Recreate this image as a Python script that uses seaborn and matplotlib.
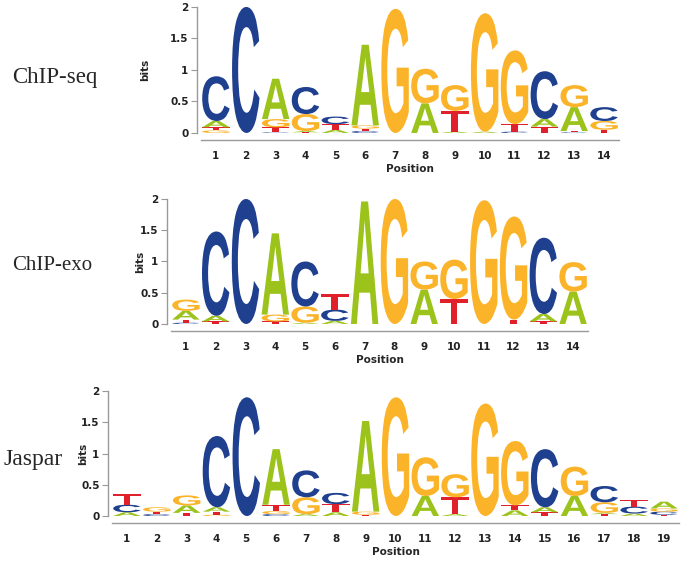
import matplotlib
matplotlib.use("Agg")
import matplotlib.pyplot as plt
import seaborn as sns
from matplotlib.textpath import TextPath
from matplotlib.patches import PathPatch
from matplotlib.font_manager import FontProperties
from matplotlib.transforms import Affine2D

# letters stacked bottom -> top at each position, with their heights in bits
seq_letters = ["GTAC", "C", "CTGA", "TAGC", "ATC", "CTGA", "G", "AG", "ATG", "AG",
               "CTG", "TAC", "CTAG", "TGC"]
seq_heights = [[0.04, 0.05, 0.10, 0.71], [2.0], [0.01, 0.08, 0.13, 0.64],
               [0.01, 0.02, 0.27, 0.43], [0.05, 0.09, 0.12], [0.03, 0.04, 0.05, 1.28],
               [1.97], [0.47, 0.55], [0.02, 0.33, 0.41], [0.02, 1.88],
               [0.02, 0.12, 1.17], [0.10, 0.12, 0.76], [0.01, 0.02, 0.38, 0.35],
               [0.05, 0.14, 0.22]]

exo_letters = ["CTAG", "TAC", "C", "TGA", "AGC", "ACT", "A", "G", "AG", "TG",
               "G", "TG", "TAC", "AG"]
exo_heights = [[0.02, 0.05, 0.14, 0.18], [0.04, 0.09, 1.35], [2.0],
               [0.04, 0.11, 1.30], [0.02, 0.26, 0.72], [0.05, 0.18, 0.25],
               [1.96], [2.0], [0.55, 0.45], [0.40, 0.63], [1.98], [0.07, 1.65],
               [0.04, 0.12, 1.22], [0.52, 0.47]]

jaspar_letters = ["ACT", "CTG", "TAG", "GTAC", "C", "CGTA", "AGC", "ATC", "TGA",
                  "G", "AG", "ATG", "G", "ATG", "TAC", "AG", "TAGC", "ACT", "TCGA"]
jaspar_heights = [[0.06, 0.12, 0.17], [0.03, 0.04, 0.07], [0.05, 0.12, 0.16],
                  [0.02, 0.05, 0.07, 1.14], [1.90], [0.03, 0.05, 0.10, 0.89],
                  [0.03, 0.27, 0.43], [0.06, 0.13, 0.18], [0.02, 0.05, 1.45],
                  [1.90], [0.32, 0.62], [0.03, 0.27, 0.37], [1.80],
                  [0.09, 0.08, 1.03], [0.06, 0.08, 0.93], [0.32, 0.47],
                  [0.03, 0.02, 0.17, 0.26], [0.04, 0.11, 0.11], [0.02, 0.05, 0.05, 0.11]]

panel_names = ["ChIP-seq", "ChIP-exo", "Jaspar"]

colors = {"A": "#9bc31b", "C": "#1f3f8f", "G": "#fbb42a", "T": "#e0202a"}

sns.set_style("white")
plt.rcParams["font.family"] = ["DejaVu Sans"]

fp = FontProperties(family="Liberation Sans", weight="bold")


def draw_letter(ax, letter, x, y, w, h):
    tp = TextPath((0, 0), letter, size=1, prop=fp)
    bb = tp.get_extents()
    tr = Affine2D().translate(-bb.x0, -bb.y0).scale(w / bb.width, h / bb.height).translate(x - w / 2, y)
    ax.add_patch(PathPatch(tr.transform_path(tp), fc=colors[letter], lw=0, clip_on=False))


def draw_logo(ax, letters, heights, bits_pad):
    n = len(letters)
    for i in range(n):
        y = 0
        for let, h in zip(letters[i], heights[i]):
            draw_letter(ax, let, i + 1, y, 0.92, h)
            y += h
    ax.set_xlim(0.5, n + 0.5)
    ax.set_ylim(0, 2)
    ax.set_xticks(range(1, n + 1))
    ax.set_yticks([0, 0.5, 1, 1.5, 2])
    ax.set_yticklabels(["0", "0.5", "1", "1.5", "2"])
    sns.despine(ax=ax)
    ax.spines["left"].set_bounds(0, 2)
    ax.spines["left"].set_position(("outward", 3))
    ax.spines["bottom"].set_position(("outward", 5))
    for s in ["left", "bottom"]:
        ax.spines[s].set_color("#999999")
        ax.spines[s].set_linewidth(1.0)
    ax.tick_params(axis="y", length=4, color="#999999", labelsize=7.5, pad=2, left=True)
    ax.tick_params(axis="x", length=0, labelsize=7.5, pad=8)
    for lab in ax.get_xticklabels() + ax.get_yticklabels():
        lab.set_fontweight("bold")
        lab.set_color("#222222")
    ax.set_xlabel("Position", fontsize=7.5, fontweight="bold", labelpad=2)
    ax.set_ylabel("bits", fontsize=7.5, fontweight="bold", labelpad=bits_pad)
    ax.patch.set_alpha(0)


fig = plt.figure(figsize=(6.83, 5.61), dpi=100)
ax1 = fig.add_axes([0.2943, 0.763, 0.612, 0.2246])
ax2 = fig.add_axes([0.2504, 0.4225, 0.6105, 0.2228])
ax3 = fig.add_axes([0.164, 0.0802, 0.830, 0.2228])

draw_logo(ax1, seq_letters, seq_heights, 14)
draw_logo(ax2, exo_letters, exo_heights, -4)
draw_logo(ax3, jaspar_letters, jaspar_heights, -5)

label_x = [12 / 683, 12 / 683, 3 / 683]
label_y = [1 - 77 / 561, 1 - 265 / 561, 1 - 460 / 561]
label_size = [16.5, 15, 17]
for name, xx, yy, fs in zip(panel_names, label_x, label_y, label_size):
    fig.text(xx, yy, name, fontsize=fs, family="Liberation Serif", va="center", ha="left")

fig.savefig("out.png", dpi=100)
